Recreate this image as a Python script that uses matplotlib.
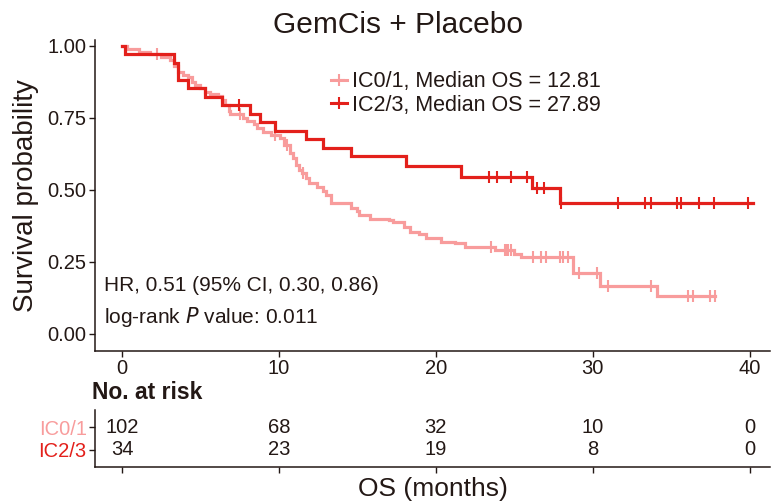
import matplotlib
matplotlib.use("Agg")
import matplotlib.pyplot as plt
from matplotlib.lines import Line2D
import numpy as np

plt.rcParams['font.family'] = ['Liberation Sans', 'DejaVu Sans']

INK = '#231815'
PINK = '#F89C9C'
RED = '#E3201B'

# IC0/1 (n=102) : event times / survival after each drop, censor times
ic01_times = [0.3, 1.1, 1.8, 2.5, 3.05, 3.3, 3.6, 3.9, 4.2, 4.45, 4.65, 4.97, 5.3, 5.6,
              6.1, 6.35, 6.55, 6.8, 6.9, 7.7, 7.95, 8.4, 8.6, 9.0, 9.5, 10.1, 10.35,
              10.7, 10.9, 11.1, 11.3, 11.5, 11.7, 11.9, 12.4, 12.8, 13.0, 13.3, 14.6,
              15.0, 15.1, 15.8, 17.0, 17.3, 18.0, 18.35, 18.9, 19.4, 20.3, 21.2, 21.85,
              23.8, 25.0, 25.45, 28.75, 30.45, 34.1]
ic01_surv = [0.99, 0.98, 0.97, 0.96, 0.95, 0.93, 0.91, 0.90, 0.89, 0.876, 0.865, 0.853,
             0.84, 0.833, 0.826, 0.812, 0.795, 0.775, 0.765, 0.75, 0.738, 0.727, 0.715,
             0.70, 0.69, 0.68, 0.656, 0.627, 0.61, 0.587, 0.569, 0.558, 0.54, 0.523,
             0.511, 0.497, 0.483, 0.454, 0.436, 0.425, 0.413, 0.40, 0.396, 0.39, 0.37,
             0.353, 0.346, 0.332, 0.32, 0.315, 0.303, 0.292, 0.279, 0.266, 0.213,
             0.167, 0.132]
ic01_cens = [2.2, 7.5, 9.75, 10.5, 11.55, 23.5, 24.4, 24.5, 24.6, 24.8, 26.2, 26.7,
             27.05, 27.9, 28.1, 28.4, 29.1, 30.3, 31.0, 33.7, 36.1, 36.4, 37.5, 37.8]
ic01_end = 37.8

# IC2/3 (n=34)
ic23_times = [0.2, 3.3, 3.6, 4.2, 5.3, 6.35, 8.15, 8.8, 9.75, 11.7, 12.8, 14.6, 18.1,
              21.6, 26.1, 27.9]
ic23_surv = [0.971, 0.941, 0.882, 0.853, 0.824, 0.794, 0.765, 0.735, 0.706, 0.676,
             0.647, 0.618, 0.582, 0.546, 0.505, 0.455]
ic23_cens = [7.45, 23.4, 23.9, 24.8, 25.8, 26.45, 26.9, 28.0, 31.6, 33.3, 33.7, 35.4,
             35.6, 36.8, 37.7, 39.9]
ic23_end = 40.2

risk_times = [0, 10, 20, 30, 40]
risk_ic01 = [102, 68, 32, 10, 0]
risk_ic23 = [34, 23, 19, 8, 0]

groups = ['IC0/1', 'IC2/3']
medians = [12.81, 27.89]


def km_curve(ax, times, surv, cens, end, col):
    t = np.concatenate([[0], times, [end]])
    s = np.concatenate([[1.0], surv, [surv[-1]]])
    ax.step(t, s, where='post', color=col, lw=2.3, solid_joinstyle='miter')
    idx = np.searchsorted(t, cens, side='right') - 1
    ax.plot(cens, s[idx], ls='none', marker='|', ms=9, mew=1.5, color=col)


fig = plt.figure(figsize=(7.75, 5.04), dpi=100)
ax = fig.add_axes([0.1226, 0.3036, 0.871, 0.617])
km_curve(ax, ic01_times, ic01_surv, ic01_cens, ic01_end, PINK)
km_curve(ax, ic23_times, ic23_surv, ic23_cens, ic23_end, RED)

ax.set_xlim(-1.72, 41.3)
ax.set_ylim(-0.059, 1.02)
ax.set_xticks(risk_times)
ax.set_yticks([0, 0.25, 0.5, 0.75, 1.0])
ax.set_yticklabels(['0.00', '0.25', '0.50', '0.75', '1.00'])
for sp in ['top', 'right']:
    ax.spines[sp].set_visible(False)
for sp in ['left', 'bottom']:
    ax.spines[sp].set_color(INK)
    ax.spines[sp].set_linewidth(1.1)
ax.tick_params(colors=INK, labelsize=14.5, length=4, width=1.0, labelcolor=INK, pad=2)
ax.set_ylabel('Survival probability', fontsize=20, color=INK, labelpad=6)
ax.set_title('GemCis + Placebo', fontsize=21.5, color=INK, pad=5, x=0.449)

handles = [Line2D([], [], color=c, lw=2.2, marker='+', ms=8, mew=1.5) for c in (PINK, RED)]
labels = ['%s, Median OS = %.2f' % (g, m) for g, m in zip(groups, medians)]
ax.legend(handles, labels, loc='upper left', bbox_to_anchor=(0.35, 0.90), frameon=False,
          fontsize=15.5, handlelength=0.75, handletextpad=0.2, labelspacing=0.12,
          labelcolor=INK, borderaxespad=0, borderpad=0)

ax.text(0.013, 0.209, 'HR, 0.51 (95% CI, 0.30, 0.86)', transform=ax.transAxes,
        fontsize=15, color=INK, va='center')
ax.text(0.013, 0.109, 'log-rank $\\mathit{P}$ value: 0.011', transform=ax.transAxes,
        fontsize=15, color=INK, va='center')

# risk table
rt = fig.add_axes([0.1226, 0.0734, 0.871, 0.113])
rt.set_xlim(ax.get_xlim())
rt.set_ylim(0, 1)
for x, a, b in zip(risk_times, risk_ic01, risk_ic23):
    rt.text(x, 0.70, str(a), ha='center', va='center', fontsize=14.5, color=INK)
    rt.text(x, 0.30, str(b), ha='center', va='center', fontsize=14.5, color=INK)
rt.set_xticks(risk_times)
rt.set_xticklabels([])
rt.set_yticks([0.70, 0.30])
for sp in ['top', 'right']:
    rt.spines[sp].set_visible(False)
for sp in ['left', 'bottom']:
    rt.spines[sp].set_color(INK)
    rt.spines[sp].set_linewidth(1.1)
rt.tick_params(colors=INK, length=4, width=1.0, pad=2)
rt.set_yticklabels(groups, fontsize=14.5)
for lab, c in zip(rt.get_yticklabels(), (PINK, RED)):
    lab.set_color(c)
rt.set_xlabel('OS (months)', fontsize=19, color=INK, labelpad=1)
rt.text(-1.9, 1.3, 'No. at risk', fontsize=16.5, fontweight='bold', color=INK, va='center')

fig.savefig('out.png', dpi=100)
